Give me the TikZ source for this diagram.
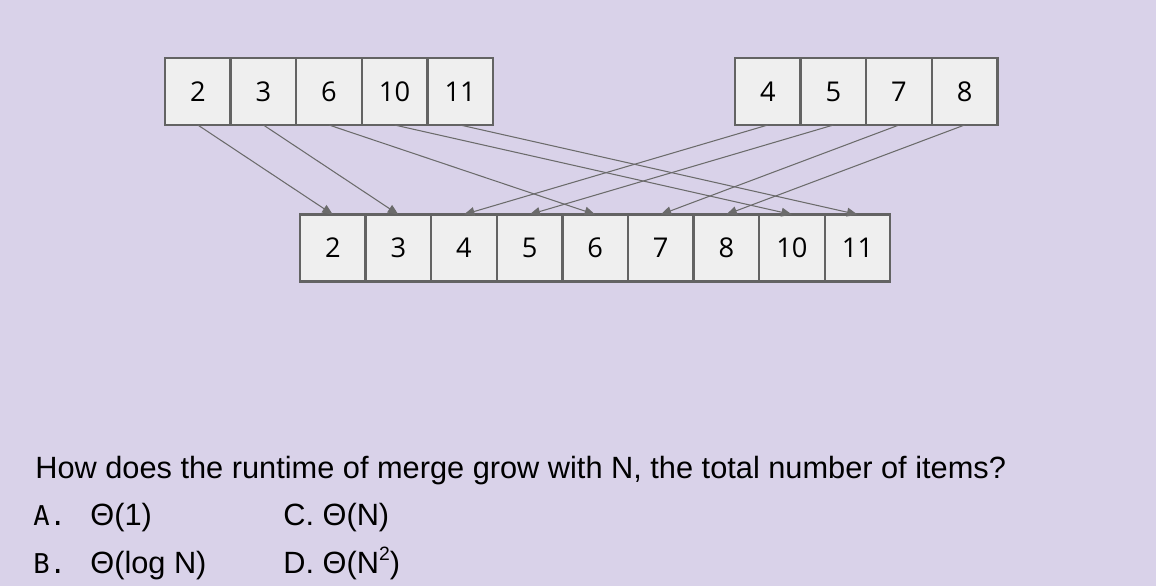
\documentclass[tikz,border=0pt]{standalone}
\usepackage{fontspec}
\setmainfont{Open Sans}
\setsansfont{Liberation Sans}
\setmonofont{DejaVu Sans Mono}
\usetikzlibrary{positioning,arrows.meta}

\definecolor{lavender}{HTML}{D9D2E9}
\definecolor{cellfill}{HTML}{EFEFEF}
\definecolor{cellline}{HTML}{636363}
\definecolor{arrowline}{HTML}{6B6B6B}

\tikzset{
  cell/.style={draw=cellline, fill=cellfill, line width=1.3pt, outer sep=0pt,
    minimum width=1.312cm, minimum height=1.34cm, inner sep=0pt,
    font=\fontsize{15.5}{18}\selectfont},
  move/.style={draw=arrowline, line width=0.6pt, -{Triangle[length=6pt,width=5pt]}},
  txt/.style={anchor=base west, inner sep=0pt, font=\sffamily\fontsize{17.5}{20}\selectfont},
  tag/.style={anchor=base west, inner sep=0pt, font=\ttfamily\fontsize{15.5}{18}\selectfont}
}

\begin{document}
\begin{tikzpicture}[x=0.02cm, y=-0.02cm]
\fill[lavender] (0,0) rectangle (1156,586);
\useasboundingbox (0,0) rectangle (1156,586);
% left half
\node[cell] (l1) at (197.8,91.5) {2};
\node[cell, right=0pt of l1] (l2) {3};
\node[cell, right=0pt of l2] (l3) {6};
\node[cell, right=0pt of l3] (l4) {10};
\node[cell, right=0pt of l4] (l5) {11};
% right half
\node[cell] (r1) at (767.8,91.5) {4};
\node[cell, right=0pt of r1] (r2) {5};
\node[cell, right=0pt of r2] (r3) {7};
\node[cell, right=0pt of r3] (r4) {8};
% merged
\node[cell] (m1) at (332.8,248) {2};
\node[cell, right=0pt of m1] (m2) {3};
\node[cell, right=0pt of m2] (m3) {4};
\node[cell, right=0pt of m3] (m4) {5};
\node[cell, right=0pt of m4] (m5) {6};
\node[cell, right=0pt of m5] (m6) {7};
\node[cell, right=0pt of m6] (m7) {8};
\node[cell, right=0pt of m7] (m8) {10};
\node[cell, right=0pt of m8] (m9) {11};
% arrows
\draw[move] (l1.south) -- (m1.north);
\draw[move] (l2.south) -- (m2.north);
\draw[move] (l3.south) -- (m5.north);
\draw[move] (l4.south) -- (m8.north);
\draw[move] (l5.south) -- (m9.north);
\draw[move] (r1.south) -- (m3.north);
\draw[move] (r2.south) -- (m4.north);
\draw[move] (r3.south) -- (m6.north);
\draw[move] (r4.south) -- (m7.north);
% question
\node[txt] (q) at (35,478) {How does the runtime of merge grow with N, the total number of items?};
\node[tag] (qa) at (33,525) {A.};
\node[txt] (qa1) at (90,525) {Θ(1)};
\node[txt] (qc) at (283,525) {C. Θ(N)};
\node[tag] (qb) at (33,573) {B.};
\node[txt] (qb1) at (90,573) {Θ(log N)};
\node[txt] (qd) at (283,573) {D. Θ(N\raisebox{0.75ex}{\fontsize{11}{12}\selectfont 2})};
\end{tikzpicture}
\end{document}
